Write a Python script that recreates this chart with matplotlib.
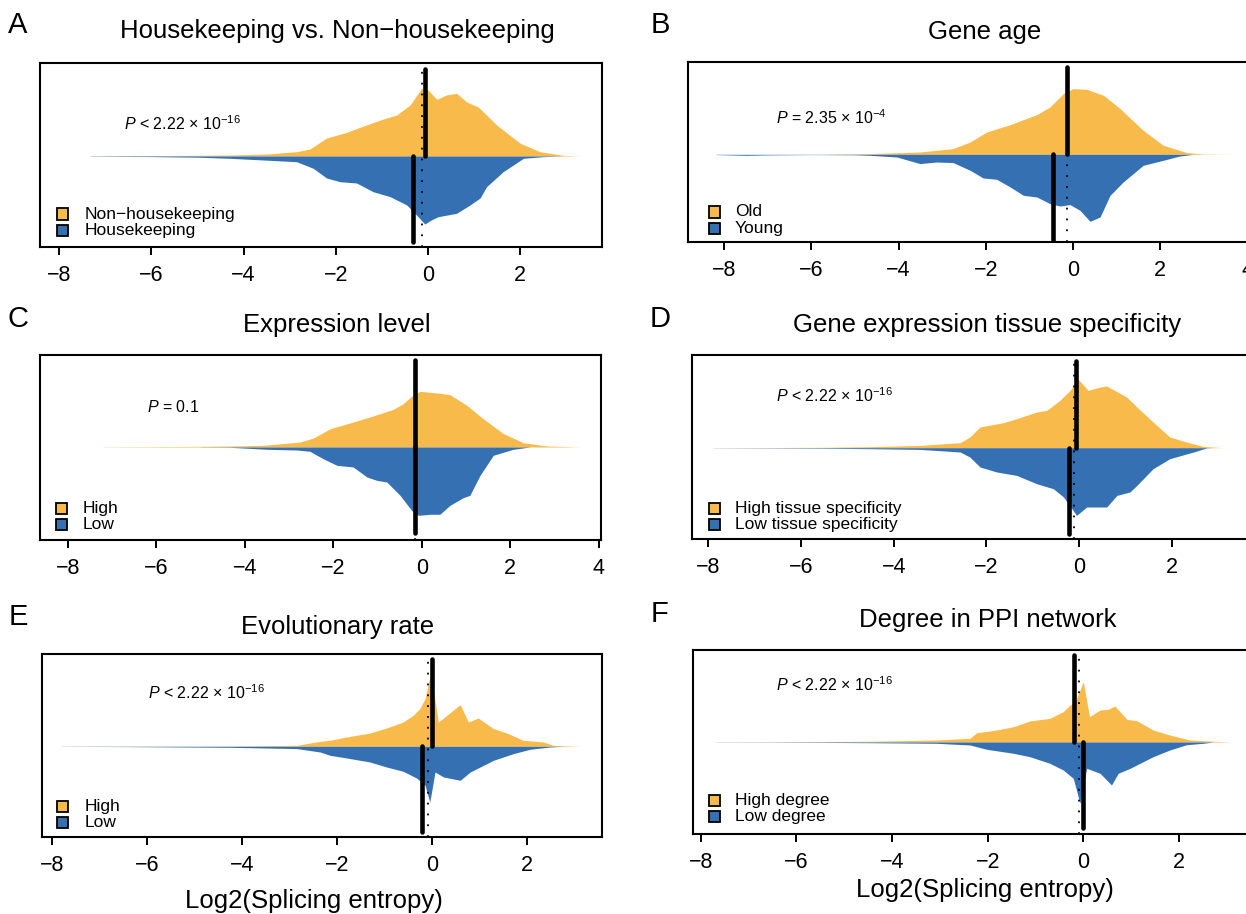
import matplotlib
matplotlib.use('Agg')
import matplotlib.pyplot as plt
from matplotlib.patches import Rectangle

plt.rcParams['font.family'] = ['Liberation Sans', 'DejaVu Sans']
plt.rcParams['mathtext.fontset'] = 'custom'
plt.rcParams['mathtext.rm'] = 'Liberation Sans'
plt.rcParams['mathtext.it'] = 'Liberation Sans:italic'

ORANGE = '#F8BB4B'
BLUE = '#3571B2'

# ---------------- data (x in log2 splicing entropy, heights = density drawn) ----------------
# A: Housekeeping vs Non-housekeeping
a_up_x = [-7.33, -6.0, -5.0, -4.3, -3.5, -2.85, -2.56, -2.2, -1.76, -1.40, -0.97, -0.68, -0.39, -0.14, 0.0, 0.19, 0.40, 0.62, 0.84, 1.09, 1.49, 2.0, 2.43, 2.93, 3.3]
a_up_y = [0.2, 0.4, 0.7, 1.0, 2.0, 4.3, 7, 18, 23.7, 30, 37, 41, 51, 67.7, 66, 56.7, 61, 62.7, 54, 49, 31, 12.7, 4.3, 0.7, 0]
a_lo_x = [-7.33, -6.0, -5.0, -4.3, -3.57, -2.85, -2.49, -2.2, -1.91, -1.55, -1.19, -0.82, -0.46, -0.25, -0.07, 0.07, 0.22, 0.62, 0.91, 1.13, 1.27, 1.63, 2.07, 2.5, 2.9]
a_lo_y = [0.2, 0.6, 1.2, 2.3, 4, 5.7, 12.3, 22, 25.7, 27, 35.7, 40.7, 49, 59, 68, 64, 60.7, 57.3, 49, 42, 30.7, 15.7, 2.3, 0.7, 0]
a_medians = [-0.07, -0.32, -0.14]   # upper, lower, overall

# B: Gene age
b_up_x = [-5.6, -4.66, -3.51, -2.75, -2.36, -1.98, -1.44, -0.83, -0.53, -0.22, 0.0, 0.31, 0.70, 1.08, 1.61, 2.07, 2.61, 2.99, 3.67]
b_up_y = [0.2, 0.7, 2.3, 5.7, 12.3, 22.3, 29.7, 39.7, 47.3, 60.7, 65.7, 65, 59, 45.7, 24, 9, 1.7, 0.3, 0]
b_lo_x = [-8.19, -7.5, -7.0, -6.0, -5.0, -4.66, -4.04, -3.51, -3.13, -2.75, -2.36, -2.06, -1.75, -1.44, -1.14, -0.83, -0.53, -0.30, -0.07, 0.16, 0.39, 0.62, 0.85, 1.15, 1.61, 2.07, 2.45, 2.76]
b_lo_y = [0.3, 1.0, 0.6, 0.3, 0.5, 1, 2.7, 9.3, 7.7, 8.3, 16, 23.7, 25, 32.7, 41, 42.7, 49.3, 51.7, 50.3, 56, 67, 62.7, 41, 27.7, 11, 6, 1.7, 0]
b_medians = [-0.14, -0.47, -0.14]

# C: Expression level
c_up_x = [-7.2, -6.0, -5.0, -4.34, -3.58, -2.75, -2.45, -2.07, -1.55, -1.10, -0.64, -0.42, -0.19, -0.04, 0.41, 0.64, 1.02, 1.39, 1.85, 2.30, 2.83, 3.58]
c_up_y = [0.2, 0.4, 0.7, 1, 1.7, 5, 9, 18.3, 25, 31, 37.7, 43.3, 52.3, 55.7, 53.7, 52.3, 41.7, 28.3, 13.3, 4.3, 1, 0]
c_lo_x = [-5.0, -4.34, -3.50, -2.83, -2.53, -2.23, -1.92, -1.55, -1.24, -1.02, -0.79, -0.49, -0.23, -0.08, 0.19, 0.41, 0.64, 0.94, 1.09, 1.32, 1.62, 2.07, 2.45]
c_lo_y = [0.1, 0.3, 2.3, 3, 4.3, 11.7, 18.3, 20, 30, 33.3, 35, 48.3, 63.3, 68.3, 67.3, 67.3, 58.3, 50.7, 48.3, 28.3, 8.3, 2.3, 0]
c_medians = [-0.15, -0.15, -0.15]

# D: Gene expression tissue specificity
d_up_x = [-7.9, -6.5, -5.5, -4.51, -3.43, -2.57, -2.36, -2.14, -1.64, -1.35, -0.92, -0.70, -0.42, -0.20, -0.02, 0.19, 0.45, 0.59, 1.02, 1.24, 1.59, 1.95, 2.31, 2.67, 3.1]
d_up_y = [0.1, 0.2, 0.4, 1, 2.3, 5, 10.7, 20.7, 25, 29, 35.7, 37.3, 47.3, 57.3, 68.3, 57.3, 60.7, 61.7, 50.7, 40.7, 25.7, 10.7, 5.7, 1.3, 0]
d_lo_x = [-7.9, -6.5, -5.5, -4.51, -3.43, -2.57, -2.36, -2.14, -1.78, -1.35, -0.92, -0.56, -0.34, -0.16, -0.06, 0.16, 0.59, 0.81, 1.09, 1.24, 1.59, 1.95, 2.46, 2.74, 2.88]
d_lo_y = [0.1, 0.3, 0.5, 1, 1.7, 4.3, 9.3, 19.3, 24.3, 27.7, 36, 41, 49.3, 61, 67.7, 59.3, 59.3, 47.7, 44.3, 37.7, 21, 11, 4.3, 0.3, 0]
d_medians = [-0.07, -0.22, -0.12]

# E: Evolutionary rate
e_up_x = [-7.8, -6.5, -5.5, -4.25, -2.84, -2.35, -2.14, -1.79, -1.30, -0.95, -0.60, -0.39, -0.25, -0.14, -0.04, 0.03, 0.14, 0.32, 0.60, 0.77, 0.98, 1.30, 1.58, 1.93, 2.35, 2.56, 3.13]
e_up_y = [0.1, 0.2, 0.2, 0.3, 1, 5, 6, 9.3, 13.3, 18.3, 24.3, 31, 37.7, 47.7, 69.3, 57.7, 24.3, 31, 41.7, 24.3, 28.3, 17.7, 13.3, 6, 4.3, 1, 0]
e_lo_x = [-7.8, -6.5, -5.5, -4.25, -2.84, -2.35, -2.14, -1.79, -1.30, -0.95, -0.60, -0.32, -0.14, -0.04, 0.07, 0.25, 0.60, 0.81, 1.30, 1.72, 2.07, 2.49, 2.77]
e_lo_y = [0.1, 0.3, 0.6, 1, 2.3, 5.7, 9, 11.7, 15.7, 20.7, 25, 31.7, 39, 55.7, 25.7, 30.7, 34, 25.7, 14, 7.3, 3, 0.7, 0]
e_medians = [0.01, -0.21, -0.08]

# F: Degree in PPI network
f_up_x = [-7.7, -6.5, -5.5, -4.46, -3.07, -2.37, -2.23, -1.81, -1.46, -1.12, -0.70, -0.42, -0.28, -0.18, 0.0, 0.13, 0.35, 0.52, 0.66, 0.91, 1.12, 1.46, 1.81, 2.23, 2.51, 3.07]
f_up_y = [0.1, 0.2, 0.4, 0.7, 2, 3.7, 9.3, 12, 15.3, 21, 23.7, 30.3, 37, 38.7, 60.3, 25.3, 32, 32.7, 36, 22.7, 21.3, 12, 7, 2, 1.3, 0]
f_lo_x = [-7.7, -6.5, -5.5, -4.46, -3.07, -2.37, -2.02, -1.46, -1.12, -0.70, -0.42, -0.21, -0.07, 0.07, 0.35, 0.59, 0.73, 0.98, 1.46, 1.81, 2.16, 2.51, 2.72]
f_lo_y = [0.1, 0.2, 0.4, 0.7, 1.3, 3, 7.3, 11.3, 14.7, 21.3, 28, 36.3, 61.3, 26.3, 31.3, 43, 31.3, 26.3, 14.7, 8, 2.7, 1.3, 0]
f_medians = [-0.19, 0.0, -0.10]

letters = ['A', 'B', 'C', 'D', 'E', 'F']
titles = ['Housekeeping vs. Non\u2212housekeeping', 'Gene age', 'Expression level',
          'Gene expression tissue specificity', 'Evolutionary rate', 'Degree in PPI network']
legend_labels = [['Non\u2212housekeeping', 'Housekeeping'], ['Old', 'Young'], ['High', 'Low'],
                 ['High tissue specificity', 'Low tissue specificity'], ['High', 'Low'],
                 ['High degree', 'Low degree']]
p_texts = [r'$\it{P}$ < 2.22 × 10$^{\mathrm{-16}}$', r'$\it{P}$ = 2.35 × 10$^{\mathrm{-4}}$',
           r'$\it{P}$ = 0.1', r'$\it{P}$ < 2.22 × 10$^{\mathrm{-16}}$',
           r'$\it{P}$ < 2.22 × 10$^{\mathrm{-16}}$', r'$\it{P}$ < 2.22 × 10$^{\mathrm{-16}}$']
tick_values = [-8, -6, -4, -2, 0, 2, 4]

series = [
    (a_up_x, a_up_y, a_lo_x, a_lo_y, a_medians),
    (b_up_x, b_up_y, b_lo_x, b_lo_y, b_medians),
    (c_up_x, c_up_y, c_lo_x, c_lo_y, c_medians),
    (d_up_x, d_up_y, d_lo_x, d_lo_y, d_medians),
    (e_up_x, e_up_y, e_lo_x, e_lo_y, e_medians),
    (f_up_x, f_up_y, f_lo_x, f_lo_y, f_medians),
]

# ---------------- layout (pixels) ----------------
W, H = 1246, 914
# box left, top, right, bottom, center-line y, pixel of x=0, pixels per unit
layout = [
    dict(box=(40, 63, 602, 247), cy=156, x0=428, unit=46.1, letter=(18, 25), title=(337, 31),
         leg=(62, 214, 85), p=(124, 124), xlabel=None),
    dict(box=(688, 62, 1262, 242), cy=154.3, x0=1073, unit=43.6, letter=(660, 25), title=(985, 32),
         leg=(714, 212, 735), p=(776, 118), xlabel=None),
    dict(box=(40, 355, 601, 539.5), cy=447, x0=421.7, unit=44.2, letter=(18, 319), title=(337, 325),
         leg=(61, 508, 83), p=(147, 407), xlabel=None),
    dict(box=(692, 355, 1262, 539), cy=447.7, x0=1079.3, unit=46.4, letter=(660, 319), title=(987, 325),
         leg=(714, 508, 735), p=(776, 396), xlabel=None),
    dict(box=(42, 654, 602, 837), cy=746.3, x0=431.7, unit=47.5, letter=(18, 617), title=(338, 627),
         leg=(63, 806, 85), p=(148, 693), xlabel=(314, 901)),
    dict(box=(693, 650, 1262, 834), cy=742, x0=1083.3, unit=47.8, letter=(660, 614), title=(988, 620),
         leg=(714, 800, 735), p=(776, 685), xlabel=(985, 890)),
]

fig = plt.figure(figsize=(W / 100, H / 100), dpi=100)


def fx(x):
    return x / W


def fy(y):
    return 1 - y / H


for i, L in enumerate(layout):
    l, t, r, b = L['box']
    ax = fig.add_axes([fx(l), fy(b), (r - l) / W, (b - t) / H])
    xlo, xhi = (l - L['x0']) / L['unit'], (r - L['x0']) / L['unit']
    ux, uy, lx, ly, med = series[i]
    ax.fill_between(ux, 0, uy, color=ORANGE, lw=0)
    ax.fill_between(lx, 0, [-v for v in ly], color=BLUE, lw=0)
    ax.axvline(med[2], color='black', lw=1.3, linestyle=(0, (1, 5)))
    ax.plot([med[0], med[0]], [0, 87], color='black', lw=3.3, solid_capstyle='round')
    ax.plot([med[1], med[1]], [0, -86], color='black', lw=3.3, solid_capstyle='round')
    ax.set_yticks([])
    ticks = [v for v in tick_values if xlo <= v <= xhi]
    ax.set_xticks(ticks)
    ax.set_xticklabels(['\u2212%d' % -v if v < 0 else '%d' % v for v in ticks])
    ax.set_xlim(xlo, xhi)
    ax.set_ylim(-(b - L['cy']), L['cy'] - t)
    ax.tick_params(axis='x', length=6, width=1.4, pad=7, labelsize=15.5, direction='out')
    for s in ax.spines.values():
        s.set_linewidth(1.5)

    fig.text(fx(L['letter'][0]), fy(L['letter'][1]), letters[i], fontsize=21, ha='center', va='center')
    fig.text(fx(L['title'][0]), fy(L['title'][1]), titles[i], fontsize=18.5, ha='center', va='center')
    fig.text(fx(L['p'][0]), fy(L['p'][1]), p_texts[i], fontsize=11.5, ha='left', va='center')

    sx, sy, tx = L['leg']
    for k, (lab, col) in enumerate(zip(legend_labels[i], [ORANGE, BLUE])):
        yy = sy + k * 16.5
        fig.patches.append(Rectangle((fx(sx - 5.5), fy(yy + 5.5)), 11 / W, 11 / H,
                                     transform=fig.transFigure, facecolor=col,
                                     edgecolor='black', lw=1.3))
        fig.text(fx(tx), fy(yy), lab, fontsize=12.5, ha='left', va='center')

    if L['xlabel'] is not None:
        fig.text(fx(L['xlabel'][0]), fy(L['xlabel'][1]), 'Log2(Splicing entropy)',
                 fontsize=18.5, ha='center', va='center')

fig.savefig('out.png', dpi=100)
